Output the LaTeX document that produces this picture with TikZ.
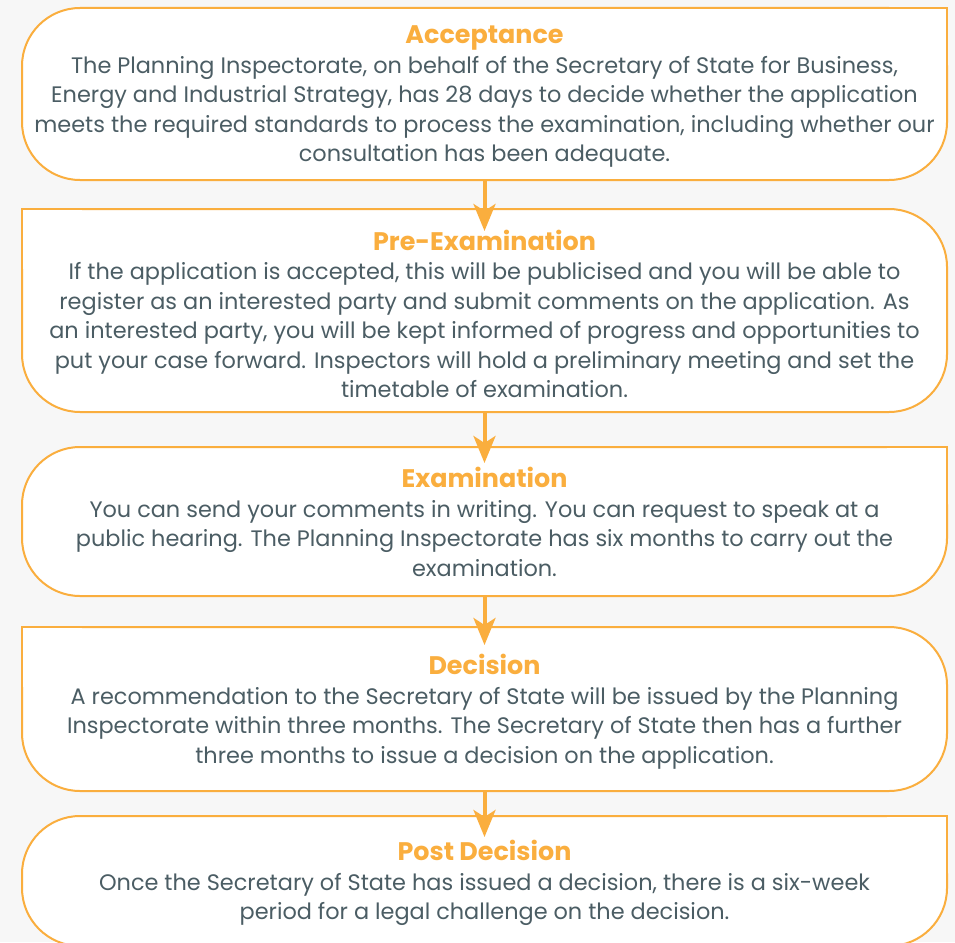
\documentclass[tikz,border=0pt]{standalone}
\usepackage{fontspec}
\setmainfont{Poppins}
\usetikzlibrary{arrows.meta}
\definecolor{bg}{HTML}{F7F7F7}
\definecolor{org}{HTML}{FAAE3E}
\definecolor{txt}{HTML}{4B5D64}
\newcommand{\ttl}[1]{{\fontsize{25.4}{29.5}\selectfont\bfseries\color{org}#1}}
\begin{document}
\begin{tikzpicture}[x=1pt,y=-1pt,
  box/.style={draw=org, line width=2pt, fill=white, rounded corners=58pt,
    minimum width=925pt, inner sep=0pt, outer sep=0pt},
  lbl/.style={align=center, text=txt, inner sep=0pt,
    font=\fontsize{22.4}{29.5}\selectfont},
  arr/.style={draw=org, line width=4pt, -{Stealth[length=27pt,width=22pt,inset=7pt]}},
  sqline/.style={draw=org, line width=2pt}]
\fill[bg] (0,0) rectangle (955,942);
\useasboundingbox (0,0) rectangle (955,942);
% boxes
\node[box, minimum height=172pt] (b1) at (484.5,94) {};
\node[box, minimum height=203pt] (b2) at (484.5,310.5) {};
\node[box, minimum height=149pt] (b3) at (484.5,521.5) {};
\node[box, minimum height=164pt] (b4) at (484.5,709) {};
\node[box, minimum height=130pt] (b5) at (484.5,881) {};
% square corners
\fill[white] ([xshift=-60pt]b1.north east) rectangle ([yshift=-60pt]b1.north east);
\draw[sqline] ([xshift=-60pt]b1.north east) -- (b1.north east) -- ([yshift=-60pt]b1.north east);
\fill[white] ([xshift=60pt]b2.north west) rectangle ([yshift=-60pt]b2.north west);
\draw[sqline] ([xshift=60pt]b2.north west) -- (b2.north west) -- ([yshift=-60pt]b2.north west);
\fill[white] ([xshift=-60pt]b3.north east) rectangle ([yshift=-60pt]b3.north east);
\draw[sqline] ([xshift=-60pt]b3.north east) -- (b3.north east) -- ([yshift=-60pt]b3.north east);
\fill[white] ([xshift=60pt]b4.north west) rectangle ([yshift=-60pt]b4.north west);
\draw[sqline] ([xshift=60pt]b4.north west) -- (b4.north west) -- ([yshift=-60pt]b4.north west);
\fill[white] ([xshift=-60pt]b5.north east) rectangle ([yshift=-60pt]b5.north east);
\draw[sqline] ([xshift=-60pt]b5.north east) -- (b5.north east) -- ([yshift=-60pt]b5.north east);
% texts
\node[lbl] (t1) at (484.5,96.5) {\ttl{Acceptance}\\
The Planning Inspectorate, on behalf of the Secretary of State for Business,\\
Energy and Industrial Strategy, has 28 days to decide whether the application\\
meets the required standards to process the examination, including whether our\\
consultation has been adequate.};
\node[lbl] (t2) at (484.5,314) {\ttl{Pre-Examination}\\
If the application is accepted, this will be publicised and you will be able to\\
register as an interested party and submit comments on the application. As\\
an interested party, you will be kept informed of progress and opportunities to\\
put your case forward. Inspectors will hold a preliminary meeting and set the\\
timetable of examination.};
\node[lbl] (t3) at (484.5,522) {\ttl{Examination}\\
You can send your comments in writing. You can request to speak at a\\
public hearing. The Planning Inspectorate has six months to carry out the\\
examination.};
\node[lbl] (t4) at (484.5,711.5) {\ttl{Decision}\\
A recommendation to the Secretary of State will be issued by the Planning\\
Inspectorate within three months. The Secretary of State then has a further\\
three months to issue a decision on the application.};
\node[lbl] (t5) at (484.5,883) {\ttl{Post Decision}\\
Once the Secretary of State has issued a decision, there is a six-week\\
period for a legal challenge on the decision.};
% arrows
\draw[arr] (b1.south) -- ([yshift=-22pt]b2.north);
\draw[arr] (b2.south) -- ([yshift=-16pt]b3.north);
\draw[arr] (b3.south) -- ([yshift=-18pt]b4.north);
\draw[arr] (b4.south) -- ([yshift=-21pt]b5.north);
\end{tikzpicture}
\end{document}
